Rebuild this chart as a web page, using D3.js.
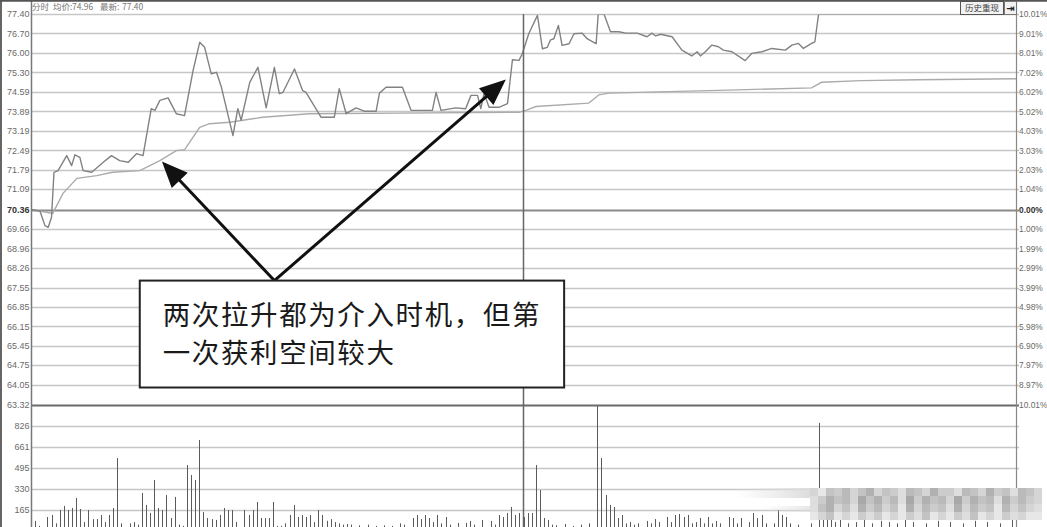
<!DOCTYPE html>
<html><head><meta charset="utf-8">
<script src="https://cdn.jsdelivr.net/npm/d3@7"></script>
<style>body{margin:0;background:#fff;overflow:hidden}svg{display:block}</style>
</head><body><svg id="c" width="1047" height="527"></svg>
<script>
// ---------- data ----------
const priceTicks = [77.40,76.70,76.00,75.30,74.59,73.89,73.19,72.49,71.79,71.09,70.36,69.66,68.96,68.26,67.55,66.85,66.15,65.45,64.75,64.05,63.32];
const pctTicks = ["10.01%","9.01%","8.01%","7.02%","6.02%","5.02%","4.03%","3.03%","2.03%","1.04%","0.00%","1.00%","1.99%","2.99%","3.99%","4.98%","5.98%","6.90%","7.97%","8.97%","10.01%"];
const volTicks = [826,661,495,330,165];

const priceMin = [0,2.2,3.4,4.2,5.0,5.6,6.6,8.7,9.9,10.7,11.9,12.7,14.8,17.6,19.6,21.6,23.7,25.7,27.3,29.3,30.2,31.4,33.4,35.4,37.4,39.5,41.1,42.3,43.9,45.2,46.4,49.2,50.4,51.2,53.3,55.3,57.3,59.3,60.5,61.4,64.2,66.2,67.0,70.7,73.9,75.1,76.8,79.2,81.2,84.1,84.9,86.5,90.5,92.6,97.8,98.7,99.9,103.5,105.9,107.2,108.8,109.6,110.4,111.6,114.0,116.1,117.3,118.9,119.7,121.3,123.4,124.6,125.8,126.6,127.4,128.5,129.4,131.1,132.3,134.3,135.5,137.1,137.7,138.2,139.6,141.2,143.2,144.9,147.7,150.1,151.3,152.2,153.4,156.2,158.6,161.0,162.3,163.1,164.3,165.9,167.5,168.7,170.8,174.0,175.6,178.1,180.5,183.8,185.4,187.0,188.2,190.2,191.0,191.9,240];
const priceVal = [70.36,70.30,69.78,69.72,70.08,71.70,71.76,72.30,71.94,72.33,72.24,71.76,71.70,72.06,72.30,72.12,72.06,72.37,72.30,73.99,73.93,74.29,74.38,73.81,73.74,75.37,76.38,76.20,75.25,75.30,74.76,73.02,73.99,73.57,74.94,75.48,74.02,75.48,74.53,74.58,75.42,74.64,74.58,73.68,73.68,74.71,73.81,74.02,73.90,73.90,74.55,74.76,74.76,73.93,73.93,74.58,73.93,74.02,73.99,74.47,74.47,73.99,74.55,74.04,74.04,74.17,75.75,75.73,75.97,76.70,77.35,76.15,76.20,76.47,76.51,76.99,76.27,76.33,76.69,76.71,76.51,76.38,76.33,77.40,77.40,76.76,76.76,76.71,76.71,76.58,76.71,76.61,76.67,76.58,76.10,75.89,76.04,75.89,76.04,76.28,76.22,76.10,76.04,75.72,75.98,76.04,76.16,76.10,76.28,76.34,76.16,76.34,76.40,77.40,77.40];

const avgMin = [0,5.3,7.8,11.2,16,19.9,26.5,31.4,35.4,37.4,41.1,43.5,48.4,56.4,67.8,89.7,117.2,118.9,120.6,123,135.9,138.4,140.8,167.5,190.2,192.6,202.3,216.2,240];
const avgVal = [70.36,70.22,70.94,71.48,71.58,71.70,71.76,72.12,72.48,72.51,73.32,73.45,73.50,73.68,73.81,73.83,73.86,73.86,73.93,74.07,74.19,74.49,74.55,74.65,74.74,74.94,75.00,75.03,75.07];

const volMin = [0,1,2,3,4,5,6,7,8,9,10,11,12,13,14,15,16,17,18,19,20,21,22,23,24,25,26,27,28,29,30,31,32,33,34,35,36,37,38,39,40,41,42,43,44,45,46,47,48,49,50,51,52,53,54,55,56,57,58,59,60,61,62,63,64,65,66,67,68,69,70,71,72,73,74,75,76,77,78,80,82,84,86,88,90,91,93,94,95,96,97,98,99,100,101,102,104,106,107,108,110,112,113,114,115,116,117,118,119,120,121,122,123,124,125,126,127,128,130,132,134,136,138,139,140,141,142,143,144,145,146,147,148,150,151,152,153,155,156,157,158,159,160,161,162,163,164,165,166,167,168,170,171,172,173,175,176,177,178,179,181,182,183,184,185,187,190,192,193,194,195,196,197,199,201,203,205,207,209,211,213,215,218,221,224,227,230,233,236,239];
const volVal = [126,79,40,30,110,126,60,165,197,165,181,260,173,70,165,94,94,126,70,126,181,574,60,30,60,70,50,299,205,142,401,181,165,283,102,268,50,40,519,440,401,716,150,102,94,87,126,181,165,165,71,30,165,126,165,228,102,102,102,228,40,40,60,126,205,110,126,110,126,70,165,126,80,94,70,60,50,55,50,45,50,40,45,40,60,50,102,126,94,126,102,70,126,60,110,50,63,63,79,50,87,79,50,126,110,142,189,126,142,110,142,142,519,322,102,87,50,45,55,40,50,60,1100,574,283,205,189,102,126,60,71,50,60,79,60,94,70,110,70,126,134,110,126,60,70,102,60,110,60,79,60,110,102,60,102,70,142,102,126,60,60,165,126,110,60,50,60,850,165,142,126,70,110,60,70,90,60,80,70,60,90,70,60,80,70,60,80,70,60,90];

const headerParts = ["分时","均价:","74.96","最新:","77.40"];
const noteLines = ["两次拉升都为介入时机，但第","一次获利空间较大"];

// ---------- scales ----------
const svg = d3.select('#c');
const L = 31, R = 1016;
const x = d3.scaleLinear().domain([0,240]).range([L,R]);
const y = d3.scaleLinear().domain([63.32,77.40]).range([405,14]);
const yv = d3.scaleLinear().domain([0,991]).range([531,405]);
const crisp = v => Math.round(v)+0.5;

// ---------- grid ----------
const g = svg.append('g');
g.selectAll('line.pg').data(priceTicks).join('line')
  .attr('x1',L).attr('x2',R+3)
  .attr('y1',d=>crisp(y(d))).attr('y2',d=>crisp(y(d)))
  .attr('stroke',(d,i)=> i===10 ? '#8a8a8a' : (i===20 ? '#6a6a6a' : '#c6c6c6'))
  .attr('stroke-width',(d,i)=> (i===10||i===20) ? 2.2 : 1.3);
g.selectAll('line.vg').data(volTicks).join('line')
  .attr('x1',L).attr('x2',R+3)
  .attr('y1',d=>crisp(yv(d))).attr('y2',d=>crisp(yv(d)))
  .attr('stroke','#c6c6c6').attr('stroke-width',1.3);

// ---------- axis labels ----------
const lab = svg.append('g').attr('font-family','Liberation Sans, Arial, sans-serif').attr('font-size',9);
lab.selectAll('text.pl').data(priceTicks).join('text')
  .attr('x',29.5).attr('y',d=>y(d)+3.2).attr('text-anchor','end')
  .attr('fill',(d,i)=> i===10 ? '#333' : '#6a6a6a')
  .attr('font-weight',(d,i)=> i===10 ? 'bold':'normal')
  .text(d=>d.toFixed(2));
lab.selectAll('text.rl').data(pctTicks).join('text')
  .attr('x',R+3).attr('y',(d,i)=>y(priceTicks[i])+3.2).attr('text-anchor','start')
  .attr('font-size',8.4)
  .attr('fill',(d,i)=> i===10 ? '#333' : '#6a6a6a')
  .attr('font-weight',(d,i)=> i===10 ? 'bold':'normal')
  .text(d=>d);
lab.selectAll('text.vl').data(volTicks).join('text')
  .attr('x',29.5).attr('y',d=>yv(d)+3.2).attr('text-anchor','end')
  .attr('fill','#6a6a6a').text(d=>d);

// ---------- volume bars ----------
svg.append('clipPath').attr('id','vclip').append('rect').attr('x',L).attr('y',406).attr('width',R-L).attr('height',130);
const vols = volMin.map((m,i)=>({m, v:volVal[i]}));
svg.append('g').attr('clip-path','url(#vclip)').selectAll('line').data(vols).join('line')
  .attr('x1',d=>crisp(x(d.m))).attr('x2',d=>crisp(x(d.m)))
  .attr('y1',yv(0)).attr('y2',d=>yv(d.v))
  .attr('stroke','#5a5a5a').attr('stroke-width',1);

// ---------- lines ----------
svg.append('clipPath').attr('id','pclip').append('rect').attr('x',L).attr('y',14.4).attr('width',R-L).attr('height',391);
const line = d3.line().x(d=>x(d[0])).y(d=>y(d[1]));
svg.append('path').attr('clip-path','url(#pclip)')
  .attr('d',line(avgMin.map((m,i)=>[m,avgVal[i]])))
  .attr('fill','none').attr('stroke','#ababab').attr('stroke-width',1.4);
svg.append('path').attr('clip-path','url(#pclip)')
  .attr('d',line(priceMin.map((m,i)=>[m,priceVal[i]])))
  .attr('fill','none').attr('stroke','#828282').attr('stroke-width',1.4).attr('stroke-linejoin','round');

// ---------- frame ----------
svg.append('line').attr('x1',crisp(x(120))-1).attr('x2',crisp(x(120))-1).attr('y1',14).attr('y2',527).attr('stroke','#666').attr('stroke-width',1.5);
svg.append('line').attr('x1',L+0.5).attr('x2',L+0.5).attr('y1',0).attr('y2',527).attr('stroke','#777').attr('stroke-width',1.5);
svg.append('line').attr('x1',R+0.5).attr('x2',R+0.5).attr('y1',0).attr('y2',527).attr('stroke','#888').attr('stroke-width',1.2);
svg.append('line').attr('x1',1).attr('x2',1).attr('y1',0).attr('y2',527).attr('stroke','#666').attr('stroke-width',2);
svg.append('line').attr('x1',0).attr('x2',1047).attr('y1',0.8).attr('y2',0.8).attr('stroke','#555').attr('stroke-width',1.8);

// ---------- header ----------
const hx = [32,53,72,100,122];
svg.append('g').attr('font-family','Noto Sans CJK SC, Liberation Sans, sans-serif').attr('font-size',8.5).attr('fill','#777')
  .selectAll('text').data(headerParts).join('text')
  .attr('x',(d,i)=>hx[i]).attr('y',10).text(d=>d);

// button
svg.append('rect').attr('x',960.5).attr('y',1.5).attr('width',43).attr('height',13).attr('fill','#f2f2f2').attr('stroke','#555');
svg.append('text').attr('x',982).attr('y',11.3).attr('text-anchor','middle').attr('font-family','Noto Sans CJK SC').attr('font-size',8.5).attr('fill','#444').text('历史重现');
svg.append('rect').attr('x',1004.5).attr('y',1.5).attr('width',12).attr('height',13).attr('fill','#f2f2f2').attr('stroke','#777');
svg.append('text').attr('x',1010.5).attr('y',12).attr('text-anchor','middle').attr('font-family','DejaVu Sans').attr('font-weight','bold').attr('font-size',10).attr('fill','#222').text('⇥');

// ---------- annotation ----------
const start = [x(59.3), y(67.80)];
const tips = [[x(31.9), y(72.09)], [x(115.7), y(75.04)]];
const ag = svg.append('g');
tips.forEach(t=>{
  const dx=t[0]-start[0], dy=t[1]-start[1], len=Math.hypot(dx,dy);
  const ux=dx/len, uy=dy/len, hl=26, hw=11;
  const bx=t[0]-ux*hl, by=t[1]-uy*hl;
  ag.append('line').attr('x1',start[0]).attr('y1',start[1]).attr('x2',bx+ux*2).attr('y2',by+uy*2)
    .attr('stroke','#111').attr('stroke-width',3);
  ag.append('path').attr('d',`M${t[0]},${t[1]}L${bx-uy*hw},${by+ux*hw}L${bx+uy*hw},${by-ux*hw}Z`).attr('fill','#111');
});
const bx0=x(26.5), bx1=x(129.9), by0=y(67.80), by1=y(63.95);
ag.append('rect').attr('x',bx0).attr('y',by0).attr('width',bx1-bx0).attr('height',by1-by0)
  .attr('fill','#fff').attr('stroke','#222').attr('stroke-width',2);
ag.selectAll('text').data(noteLines).join('text')
  .attr('x',bx0+23).attr('y',(d,i)=>by0+44+i*38.5)
  .attr('font-family','Noto Sans CJK SC').attr('font-size',27.5).attr('letter-spacing',1.6)
  .attr('fill','#1a1a1a').text(d=>d);

// ---------- pixelated watermark ----------
const mosaic = [
"79564753756845736684573658457",
"86354725364826354726354836467",
"85375836475937465837465947578",
"97597968697968597968597968799"];
const defs = svg.append('defs');
const lg = defs.append('linearGradient').attr('id','fade');
lg.append('stop').attr('offset','0').attr('stop-color','#e4e4e4').attr('stop-opacity',0);
lg.append('stop').attr('offset','1').attr('stop-color','#dcdcdc').attr('stop-opacity',1);
svg.append('rect').attr('x',735).attr('y',488).attr('width',76).attr('height',10).attr('fill','url(#fade)');
svg.append('rect').attr('x',760).attr('y',506).attr('width',51).attr('height',6).attr('fill','url(#fade)').attr('opacity',0.7);
const cells=[];
mosaic.forEach((row,r)=>row.split('').forEach((c,k)=>cells.push({r,k,v:+c})));
svg.append('g').selectAll('rect').data(cells).join('rect')
  .attr('x',d=>810+d.k*8).attr('y',d=>488+d.r*8).attr('width',8).attr('height',8)
  .attr('fill',d=>{const gv=150+d.v*9; return `rgb(${gv},${gv},${gv})`;});
</script></body></html>
